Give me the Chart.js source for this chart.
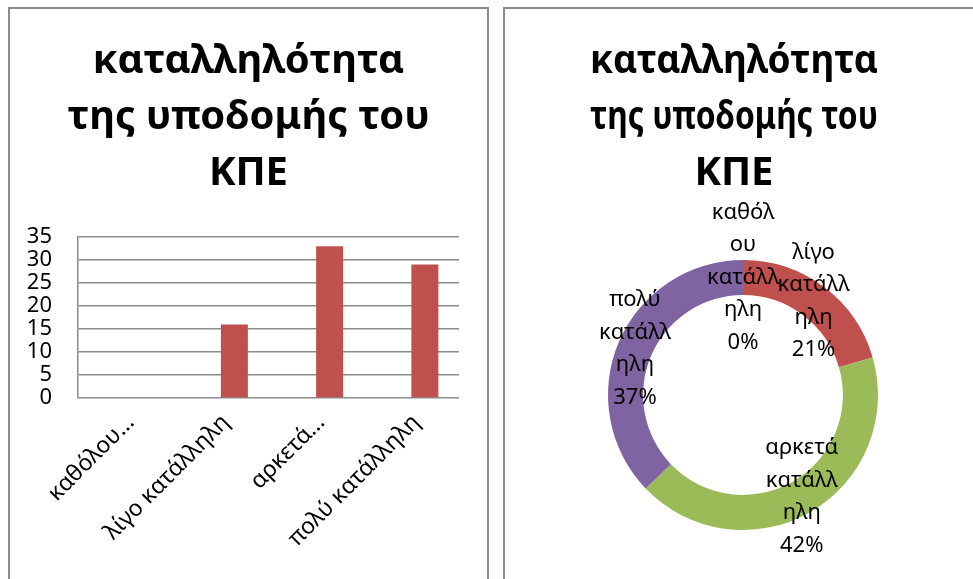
<!DOCTYPE html>
<html>
<head>
<meta charset="utf-8">
<script src="https://cdn.jsdelivr.net/npm/chart.js@4.4.0/dist/chart.umd.min.js"></script>
<style>
  body { margin: 0; background: #fff; width: 973px; height: 579px; overflow: hidden; position: relative; }
  .panel { position: absolute; border: 2px solid #8c8c8c; box-sizing: border-box; }
  canvas { position: absolute; }
</style>
</head>
<body>
<div class="panel" style="left:8px; top:7px; width:481px; height:620px;"></div>
<div class="panel" style="left:503px; top:7px; width:520px; height:620px;"></div>
<canvas id="barChart" width="477" height="570" style="left:10px; top:9px;"></canvas>
<canvas id="ringChart" width="468" height="570" style="left:505px; top:9px;"></canvas>

<script>
const titleLines = ['καταλληλότητα', 'της υποδομής του', 'ΚΠΕ'];
const categories = ['καθόλου κατάλληλη', 'λίγο κατάλληλη', 'αρκετά κατάλληλη', 'πολύ κατάλληλη'];
const barTickLabels = ['καθόλου…', 'λίγο κατάλληλη', 'αρκετά…', 'πολύ κατάλληλη'];
const answers = [0, 16, 33, 29];
const emptyColumn = [null, null, null, null];   // blank first column of the sheet
const yTicks = [0, 5, 10, 15, 20, 25, 30, 35];
// wrapped category names as they sit on the ring
const ringLabelLines = [
    ['καθόλ', 'ου', 'κατάλλ', 'ηλη'],
    ['λίγο', 'κατάλλ', 'ηλη'],
    ['αρκετά', 'κατάλλ', 'ηλη'],
    ['πολύ', 'κατάλλ', 'ηλη']
];
const ringColors = ['#4F81BD', '#C0504D', '#9BBB59', '#8064A2'];

const FONT = "'Noto Sans', 'Open Sans', sans-serif";
const gridGrey = '#8c8c8c';

Chart.defaults.font.family = FONT;
Chart.defaults.color = '#000';
Chart.defaults.animation = false;

const titleOpts = {
    display: true,
    text: titleLines,
    color: '#000',
    font: { size: 40, weight: 'bold', lineHeight: 56 / 40 },
    padding: { top: 25, bottom: 35 }
};

// empty axis used only to reserve horizontal room
function spacer(position, width) {
    return {
        type: 'linear',
        position,
        grid: { display: false },
        border: { display: false },
        ticks: { display: false },
        afterFit: s => { s.width = width; }
    };
}

new Chart(document.getElementById('barChart'), {
    type: 'bar',
    data: {
        labels: barTickLabels,
        datasets: [
            { data: emptyColumn, backgroundColor: '#4F81BD' },
            { data: answers, backgroundColor: '#C0504D' }
        ]
    },
    options: {
        responsive: false,
        categoryPercentage: 0.567,
        barPercentage: 1,
        layout: { padding: 0 },
        plugins: {
            legend: { display: false },
            tooltip: { enabled: false },
            title: titleOpts
        },
        scales: {
            x: {
                grid: { display: false },
                border: { display: false },
                ticks: {
                    font: { size: 23 },
                    minRotation: 45,
                    maxRotation: 45,
                    autoSkip: false,
                    padding: 3,
                    labelOffset: 5
                },
                afterFit: s => { s.height = 181; }
            },
            y: {
                min: 0,
                max: 35,
                afterBuildTicks: s => { s.ticks = yTicks.map(v => ({ value: v })); },
                grid: { color: gridGrey, lineWidth: 1.5, drawTicks: false },
                border: { display: true, color: gridGrey, width: 1.5 },
                ticks: { font: { size: 22, lineHeight: 1 }, padding: 26, autoSkip: false },
                afterFit: s => { s.width = 68; }
            },
            rightGap: spacer('right', 28)
        }
    }
});

// draws each slice's wrapped name and share on the middle of the ring
const ringLabels = {
    id: 'ringLabels',
    afterDatasetsDraw(chart) {
        const ctx = chart.ctx;
        const meta = chart.getDatasetMeta(0);
        const values = chart.data.datasets[0].data;
        const total = values.reduce((a, b) => a + b, 0);
        const lineH = 32.5;
        ctx.save();
        ctx.font = '22px ' + FONT;
        ctx.fillStyle = '#000';
        ctx.textAlign = 'center';
        ctx.textBaseline = 'middle';
        meta.data.forEach((arc, i) => {
            const p = arc.getCenterPoint();
            const lines = ringLabelLines[i].concat(Math.round(values[i] / total * 100) + '%');
            const y0 = p.y - (lines.length - 1) * lineH / 2;
            lines.forEach((t, k) => ctx.fillText(t, p.x, y0 + k * lineH));
        });
        ctx.restore();
    }
};

new Chart(document.getElementById('ringChart'), {
    type: 'doughnut',
    data: {
        labels: categories,
        datasets: [{ data: answers, backgroundColor: ringColors, borderWidth: 0 }]
    },
    options: {
        responsive: false,
        cutout: '74%',
        layout: { padding: { left: 85, right: 95, top: 0, bottom: 49 } },
        scales: { leftGap: spacer('left', 18) },
        plugins: {
            legend: { display: false },
            tooltip: { enabled: false },
            title: { ...titleOpts, padding: { top: 25, bottom: 58 } }
        }
    },
    plugins: [ringLabels]
});
</script>
</body>
</html>
